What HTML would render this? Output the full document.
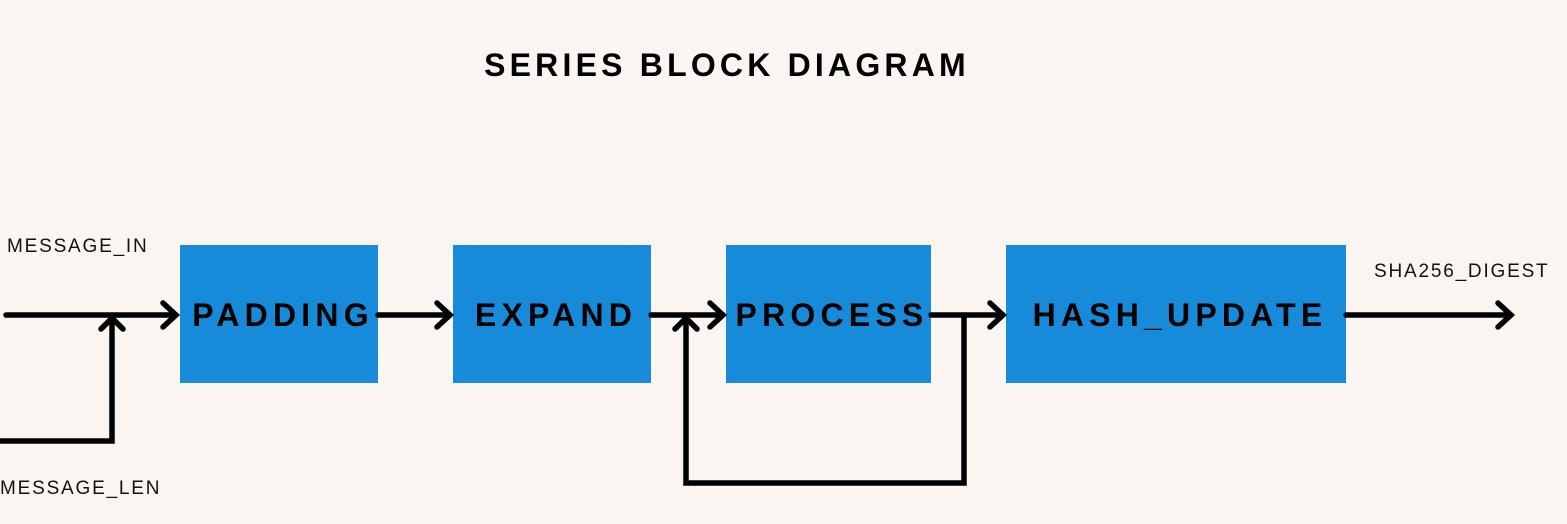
<!DOCTYPE html>
<html><head><style>
html,body{margin:0;padding:0;background:#faf5f0;}
svg{display:block}
</style></head><body>
<svg width="1567" height="524" viewBox="0 0 1567 524" xmlns="http://www.w3.org/2000/svg">
<rect width="1567" height="524" fill="#faf5f0"/>
<text x="727" y="76" text-anchor="middle" font-family="Liberation Sans, sans-serif" font-weight="bold" font-size="32" letter-spacing="4.2" fill="#000">SERIES BLOCK DIAGRAM</text>
<g fill="#178ad9">
<rect x="180" y="245" width="198" height="138"/>
<rect x="453" y="245" width="198" height="138"/>
<rect x="726" y="245" width="205" height="138"/>
<rect x="1006" y="245" width="340" height="138"/>
</g>
<g font-family="Liberation Sans, sans-serif" font-weight="bold" font-size="32" letter-spacing="5.2" fill="#000" text-anchor="middle">
<text x="283" y="326">PADDING</text>
<text x="556" y="326">EXPAND</text>
<text x="832" y="326">PROCESS</text>
<text x="1180" y="326">HASH_UPDATE</text>
</g>
<g font-family="Liberation Sans, sans-serif" font-size="19" letter-spacing="1.8" fill="#111">
<text x="7" y="252">MESSAGE_IN</text>
<text x="0" y="494">MESSAGE_LEN</text>
<text x="1374" y="277">SHA256_DIGEST</text>
</g>
<g stroke="#000" stroke-width="5.5" fill="none" stroke-linecap="round" stroke-linejoin="miter">
<line x1="6" y1="315" x2="176" y2="315"/>
<polyline points="163,303 176,315 163,327"/>
<polyline points="0,441 112,441 112,318"/>
<polyline points="101,329 112,318 123,329"/>
<line x1="378" y1="315" x2="450" y2="315"/>
<polyline points="437,303 450,315 437,327"/>
<line x1="651" y1="315" x2="723" y2="315"/>
<polyline points="710,303 723,315 710,327"/>
<line x1="931" y1="315" x2="1003" y2="315"/>
<polyline points="990,303 1003,315 990,327"/>
<polyline points="964,315 964,483 686,483 686,318"/>
<polyline points="675,329 686,318 697,329"/>
<line x1="1346" y1="315" x2="1511" y2="315"/>
<polyline points="1498,303 1511,315 1498,327"/>
</g>
</svg>
</body></html>
